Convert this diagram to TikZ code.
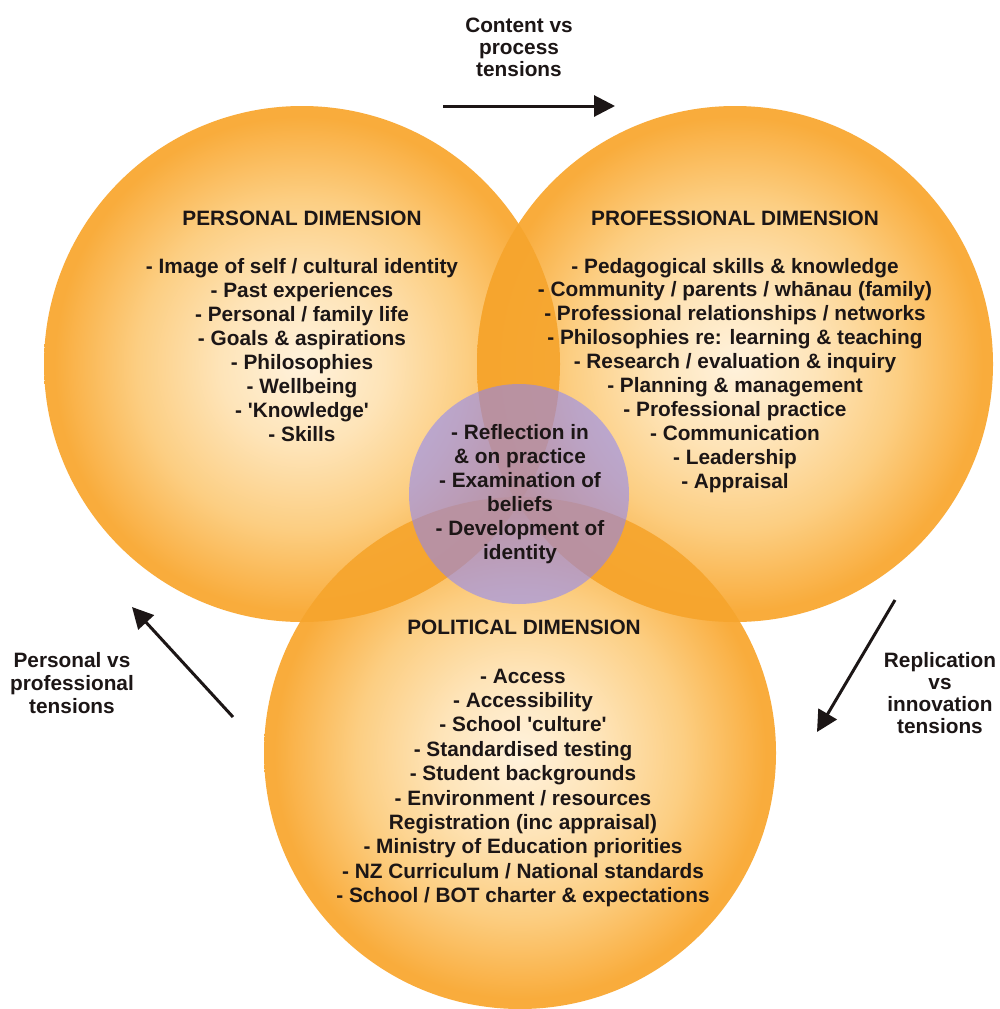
\documentclass[tikz,border=0pt]{standalone}
\usepackage{fontspec}
\setmainfont{Liberation Sans}
\usetikzlibrary{arrows.meta}

\definecolor{pale}{RGB}{255,242,220}
\definecolor{palemid}{RGB}{254,228,184}
\definecolor{midor}{RGB}{252,206,130}
\definecolor{edgeor}{RGB}{249,172,60}
\definecolor{lensor}{RGB}{246,165,45}
\definecolor{lav}{RGB}{135,130,255}
\definecolor{txt}{RGB}{28,22,22}

\pgfdeclareradialshading{orb}{\pgfpoint{0bp}{0bp}}{color(0bp)=(pale); color(8bp)=(palemid); color(16bp)=(midor); color(24bp)=(edgeor); color(25bp)=(edgeor); color(50bp)=(edgeor)}

\tikzset{
  lbl/.style={font=\fontsize{20.8}{24}\selectfont\bfseries, text=txt, inner sep=0pt, anchor=base},
  orbfill/.style={shading=orb},
  lensfill/.style={fill=lensor, opacity=0.92},
  centrefill/.style={fill=lav, fill opacity=0.55},
  tensionarrow/.style={line width=3pt, draw=txt, -{Triangle[length=21pt,width=21pt]}}
}

\begin{document}
\begin{tikzpicture}[x=1pt,y=-1pt]
\useasboundingbox (0,0) rectangle (999,1009);
\fill[white] (0,0) rectangle (999,1009);

% circle centres
\coordinate (cpers) at (302,364);
\coordinate (cprof) at (735,364);
\coordinate (cpol) at (520,753);
\coordinate (cmid) at (519,494);

% the three dimension circles
\shade[orbfill] (cpol) circle[radius=256pt];
\shade[orbfill] (cpers) circle[radius=258pt];
\shade[orbfill] (cprof) circle[radius=258pt];

% overlap regions
\begin{scope}
  \clip (cpers) circle[radius=258pt];
  \fill[lensfill] (cprof) circle[radius=258pt];
\end{scope}
\begin{scope}
  \clip (cpers) circle[radius=258pt];
  \fill[lensfill] (cpol) circle[radius=256pt];
\end{scope}
\begin{scope}
  \clip (cprof) circle[radius=258pt];
  \fill[lensfill] (cpol) circle[radius=256pt];
\end{scope}

% central circle
\fill[centrefill] (cmid) circle[radius=110pt];

% personal dimension
\node[lbl] (perstitle) at (302,225) {PERSONAL DIMENSION};
\foreach \t [count=\i from 0] in {- Image of self / cultural identity, - Past experiences, - Personal / family life, - Goals \& aspirations, - Philosophies, - Wellbeing, - \textquotesingle Knowledge\textquotesingle, - Skills}
  \node[lbl] (pers-\i) at (302,{273+24*\i}) {\t};

% professional dimension
\node[lbl] (proftitle) at (735,225) {PROFESSIONAL DIMENSION};
\foreach \t [count=\i from 0] in {- Pedagogical skills \& knowledge, - Community / parents / whānau (family), - Professional relationships / networks, - Philosophies re: learning \& teaching, - Research / evaluation \& inquiry, - Planning \& management, - Professional practice, - Communication, - Leadership, - Appraisal}
  \node[lbl] (prof-\i) at (735,{273+23.9*\i}) {\t};

% centre
\foreach \t [count=\i from 0] in {- Reflection in, \& on practice, - Examination of, beliefs, - Development of, identity}
  \node[lbl] (mid-\i) at (520,{439+24*\i}) {\t};

% political dimension
\node[lbl] (poltitle) at (524,634) {POLITICAL DIMENSION};
\foreach \t [count=\i from 0] in {- Access, - Accessibility, - School \textquotesingle culture\textquotesingle, - Standardised testing, - Student backgrounds, - Environment / resources, Registration (inc appraisal), - Ministry of Education priorities, - NZ Curriculum / National standards, - School / BOT charter \& expectations}
  \node[lbl] (pol-\i) at (523,{683+24.4*\i}) {\t};

% tension labels
\foreach \t [count=\i from 0] in {Content vs, process, tensions}
  \node[lbl] (top-\i) at (519,{32+22.3*\i}) {\t};
\foreach \t [count=\i from 0] in {Personal vs, professional, tensions}
  \node[lbl] (left-\i) at (72,{667+23.3*\i}) {\t};
\foreach \t [count=\i from 0] in {Replication, vs, innovation, tensions}
  \node[lbl] (right-\i) at (940,{667+22.3*\i}) {\t};

% tension arrows
\coordinate (topA) at (443,106);
\coordinate (topB) at (615,106);
\coordinate (leftA) at (233,717);
\coordinate (leftB) at (132,607);
\coordinate (rightA) at (895,600);
\coordinate (rightB) at (817,732);
\draw[tensionarrow] (topA) -- (topB);
\draw[tensionarrow] (leftA) -- (leftB);
\draw[tensionarrow] (rightA) -- (rightB);
\end{tikzpicture}
\end{document}
